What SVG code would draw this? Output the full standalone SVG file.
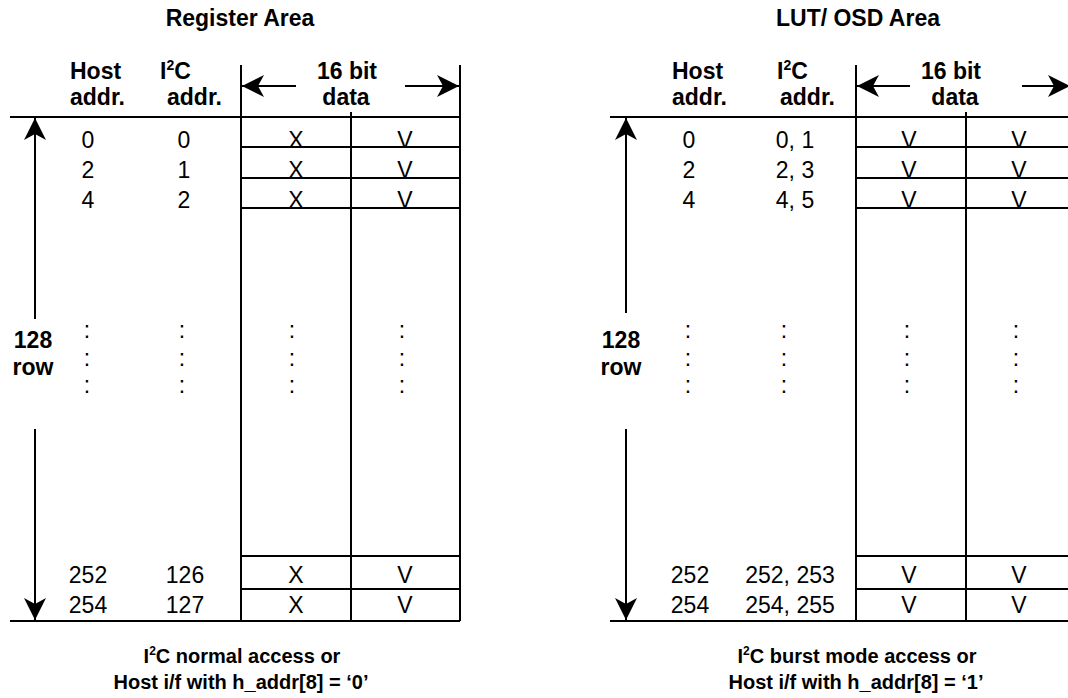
<svg xmlns="http://www.w3.org/2000/svg" width="1068" height="698" viewBox="0 0 1068 698">
<style>
text{font-family:"Liberation Sans",Arial,sans-serif;font-size:23px;fill:#000}
.b{font-weight:bold}
.m{text-anchor:middle}
.cap{font-size:20px}
.ln{stroke:#000;stroke-width:2;fill:none}
.sup{font-size:14px}
.sup2{font-size:12px}
</style>
<defs>
<marker id="ah" markerUnits="userSpaceOnUse" markerWidth="24" markerHeight="22" viewBox="0 0 24 22" refX="22" refY="11" orient="auto">
<path d="M0,0 L22,11 L0,22 L6,11 z" fill="#000"/>
</marker>
</defs>
<rect width="1068" height="698" fill="#fff"/>

<!-- LEFT PANEL -->
<g id="register-area">
<text class="b m" x="240" y="26">Register Area</text>
<g id="left-headers">
<text class="b" x="70" y="79">Host</text>
<text class="b" x="70" y="105">addr.</text>
<text class="b" x="160" y="79">I<tspan class="sup" dy="-9">2</tspan><tspan dy="9">C</tspan></text>
<text class="b" x="167" y="105">addr.</text>
<text class="b m" x="347" y="79">16 bit</text>
<text class="b m" x="346" y="105">data</text>
</g>
<g id="left-table">
<path class="ln" d="M10,117 H460 M10,621 H460 M241,65 V621 M351,112 V621 M460,65 V621 M241,147 H460 M241,178 H460 M241,208 H460 M241,556 H460 M241,589 H460"/>
</g>
<g id="left-cells">
<text class="m" x="88" y="148">0</text>
<text class="m" x="184" y="148">0</text>
<text class="m" x="296" y="148">X</text>
<text class="m" x="405" y="148">V</text>
<text class="m" x="88" y="178">2</text>
<text class="m" x="184" y="178">1</text>
<text class="m" x="296" y="178">X</text>
<text class="m" x="405" y="178">V</text>
<text class="m" x="88" y="208">4</text>
<text class="m" x="184" y="208">2</text>
<text class="m" x="296" y="208">X</text>
<text class="m" x="405" y="208">V</text>
<text class="m" x="88" y="583">252</text>
<text class="m" x="185" y="583">126</text>
<text class="m" x="296" y="583">X</text>
<text class="m" x="405" y="583">V</text>
<text class="m" x="88" y="613">254</text>
<text class="m" x="185" y="613">127</text>
<text class="m" x="296" y="613">X</text>
<text class="m" x="405" y="613">V</text>
</g>
<g id="left-dots">
<text class="m" x="87" y="338">:</text><text class="m" x="87" y="366">:</text><text class="m" x="87" y="393">:</text>
<text class="m" x="182" y="338">:</text><text class="m" x="182" y="366">:</text><text class="m" x="182" y="393">:</text>
<text class="m" x="292" y="338">:</text><text class="m" x="292" y="366">:</text><text class="m" x="292" y="393">:</text>
<text class="m" x="402" y="338">:</text><text class="m" x="402" y="366">:</text><text class="m" x="402" y="393">:</text>
</g>
<g id="left-rowcount">
<text class="b m" x="33" y="348">128</text>
<text class="b m" x="33" y="375">row</text>
</g>
<g id="left-caption">
<text class="b m cap" x="242" y="663">I<tspan class="sup2" dy="-8">2</tspan><tspan dy="8">C normal access or</tspan></text>
<text class="b m cap" x="241" y="689">Host i/f with h_addr[8] = ‘0’</text>
</g>
</g>

<!-- RIGHT PANEL -->
<g id="lut-osd-area">
<text class="b m" x="858" y="26">LUT/ OSD Area</text>
<g id="right-headers">
<text class="b" x="672" y="79">Host</text>
<text class="b" x="672" y="105">addr.</text>
<text class="b" x="777" y="79">I<tspan class="sup" dy="-9">2</tspan><tspan dy="9">C</tspan></text>
<text class="b" x="780" y="105">addr.</text>
<text class="b m" x="951" y="79">16 bit</text>
<text class="b m" x="955" y="105">data</text>
</g>
<g id="right-table">
<path class="ln" d="M610,117 H1075 M610,621 H1075 M856,65 V621 M966,112 V621 M1075,65 V621 M856,147 H1075 M856,178 H1075 M856,208 H1075 M856,556 H1075 M856,589 H1075"/>
</g>
<g id="right-cells">
<text class="m" x="689" y="148">0</text>
<text class="m" x="795" y="148">0, 1</text>
<text class="m" x="909" y="148">V</text>
<text class="m" x="1019" y="148">V</text>
<text class="m" x="689" y="178">2</text>
<text class="m" x="795" y="178">2, 3</text>
<text class="m" x="909" y="178">V</text>
<text class="m" x="1019" y="178">V</text>
<text class="m" x="689" y="208">4</text>
<text class="m" x="795" y="208">4, 5</text>
<text class="m" x="909" y="208">V</text>
<text class="m" x="1019" y="208">V</text>
<text class="m" x="690" y="583">252</text>
<text class="m" x="790" y="583">252, 253</text>
<text class="m" x="909" y="583">V</text>
<text class="m" x="1019" y="583">V</text>
<text class="m" x="690" y="613">254</text>
<text class="m" x="790" y="613">254, 255</text>
<text class="m" x="909" y="613">V</text>
<text class="m" x="1019" y="613">V</text>
</g>
<g id="right-dots">
<text class="m" x="688" y="338">:</text><text class="m" x="688" y="366">:</text><text class="m" x="688" y="393">:</text>
<text class="m" x="784" y="338">:</text><text class="m" x="784" y="366">:</text><text class="m" x="784" y="393">:</text>
<text class="m" x="907" y="338">:</text><text class="m" x="907" y="366">:</text><text class="m" x="907" y="393">:</text>
<text class="m" x="1016" y="338">:</text><text class="m" x="1016" y="366">:</text><text class="m" x="1016" y="393">:</text>
</g>
<g id="right-rowcount">
<text class="b m" x="621" y="348">128</text>
<text class="b m" x="621" y="375">row</text>
</g>
<g id="right-caption">
<text class="b m cap" x="857" y="663">I<tspan class="sup2" dy="-8">2</tspan><tspan dy="8">C burst mode access or</tspan></text>
<text class="b m cap" x="856" y="689">Host i/f with h_addr[8] = ‘1’</text>
</g>
</g>

<!-- CONNECTORS -->
<g id="connectors">
<line class="ln" x1="296" y1="86" x2="242" y2="86" marker-end="url(#ah)"/>
<line class="ln" x1="405" y1="86" x2="459" y2="86" marker-end="url(#ah)"/>
<line class="ln" x1="35" y1="319" x2="35" y2="118" marker-end="url(#ah)"/>
<line class="ln" x1="35" y1="429" x2="35" y2="620" marker-end="url(#ah)"/>
<line class="ln" x1="910" y1="86" x2="857" y2="86" marker-end="url(#ah)"/>
<line class="ln" x1="1022" y1="86" x2="1070" y2="86" marker-end="url(#ah)"/>
<line class="ln" x1="626" y1="313" x2="626" y2="118" marker-end="url(#ah)"/>
<line class="ln" x1="626" y1="429" x2="626" y2="620" marker-end="url(#ah)"/>
</g>
</svg>
